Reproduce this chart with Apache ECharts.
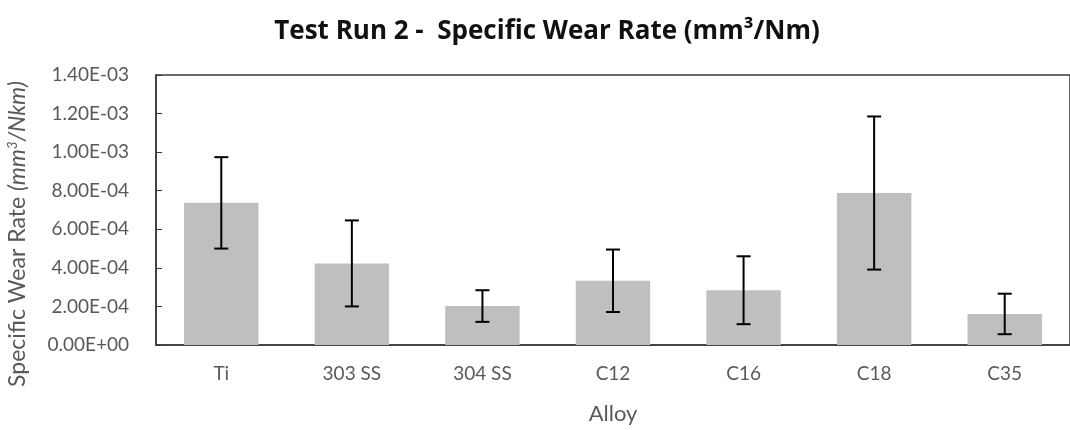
<!DOCTYPE html>
<html>
<head>
<meta charset="utf-8">
<script src="https://cdn.jsdelivr.net/npm/echarts@6/dist/echarts.min.js"></script>
<style>
  html, body { margin: 0; padding: 0; background: #fff; }
  #chart { width: 1070px; height: 430px; }
</style>
</head>
<body>
<div id="chart"></div>
<script>
// Alloys tested in run 2
const alloys = ['Ti', '303 SS', '304 SS', 'C12', 'C16', 'C18', 'C35'];
// Mean specific wear rate per alloy
const wearRate = [7.37e-4, 4.23e-4, 2.02e-4, 3.33e-4, 2.84e-4, 7.88e-4, 1.61e-4];
// Error bar half-length (±) per alloy
const wearError = [2.37e-4, 2.23e-4, 0.82e-4, 1.62e-4, 1.76e-4, 3.97e-4, 1.05e-4];
// Value axis tick labels, one per 2.00E-04 step
const yTickLabels = ['0.00E+00', '2.00E-04', '4.00E-04', '6.00E-04', '8.00E-04', '1.00E-03', '1.20E-03', '1.40E-03'];

const FONT = 'Lato, "Open Sans", sans-serif';
const chart = echarts.init(document.getElementById('chart'));

const errorData = alloys.map((a, i) => [i, wearRate[i] - wearError[i], wearRate[i] + wearError[i]]);

chart.setOption({
  animation: false,
  backgroundColor: '#ffffff',
  title: {
    text: 'Test Run 2 -  Specific Wear Rate (mm³/Nm)',
    left: 542,
    top: 14,
    textAlign: 'center',
    textStyle: { fontFamily: '"Open Sans", sans-serif', fontWeight: 'bold', fontSize: 26, color: '#111' }
  },
  grid: {
    left: 156, top: 75, width: 922, height: 273,
    show: true, borderColor: '#3a3a3a', borderWidth: 1.5, containLabel: false
  },
  xAxis: {
    type: 'category',
    data: alloys,
    name: 'Alloy',
    nameLocation: 'middle',
    nameGap: 58,
    nameTextStyle: { fontFamily: FONT, fontSize: 22, color: '#595959', verticalAlign: 'top' },
    axisLine: { lineStyle: { color: '#3a3a3a', width: 1.5 } },
    axisTick: { show: false },
    axisLabel: { fontFamily: FONT, fontSize: 19, color: '#595959', margin: 19 }
  },
  yAxis: {
    type: 'value',
    min: 0, max: 1.4e-3, interval: 2e-4,
    axisLine: { show: true, lineStyle: { color: '#3a3a3a', width: 1.5 } },
    axisTick: { show: true, inside: true, length: 6, lineStyle: { color: '#3a3a3a' } },
    splitLine: { show: false },
    axisLabel: {
      fontFamily: FONT, fontSize: 19, color: '#595959', margin: 27,
      formatter: v => yTickLabels[Math.round(v / 2e-4)]
    }
  },
  graphic: [{
    type: 'text',
    x: 18, y: 234,
    rotation: Math.PI / 2,
    style: {
      text: '{a|Specific Wear Rate }{i|(mm}{s|3}{i|/Nkm)}',
      align: 'center', verticalAlign: 'middle',
      rich: {
        a: { fontFamily: FONT, fontSize: 23, fill: '#595959' },
        i: { fontFamily: FONT, fontSize: 23, fontStyle: 'italic', fill: '#595959' },
        s: { fontFamily: FONT, fontSize: 13, fontStyle: 'italic', fill: '#595959', verticalAlign: 'top', padding: [0, 0, 9, 0] }
      }
    }
  }],
  series: [{
    type: 'bar',
    data: wearRate,
    barCategoryGap: '43%',
    itemStyle: { color: '#bfbfbf' }
  }, {
    type: 'custom',
    data: errorData,
    z: 10,
    renderItem: (params, api) => {
      const i = api.value(0);
      const lo = api.coord([i, api.value(1)]);
      const hi = api.coord([i, api.value(2)]);
      const cap = 7;
      const style = { stroke: '#000', lineWidth: 2 };
      return {
        type: 'group',
        children: [
          { type: 'line', shape: { x1: lo[0], y1: lo[1], x2: hi[0], y2: hi[1] }, style },
          { type: 'line', shape: { x1: hi[0] - cap, y1: hi[1], x2: hi[0] + cap, y2: hi[1] }, style },
          { type: 'line', shape: { x1: lo[0] - cap, y1: lo[1], x2: lo[0] + cap, y2: lo[1] }, style }
        ]
      };
    }
  }]
});
</script>
</body>
</html>
